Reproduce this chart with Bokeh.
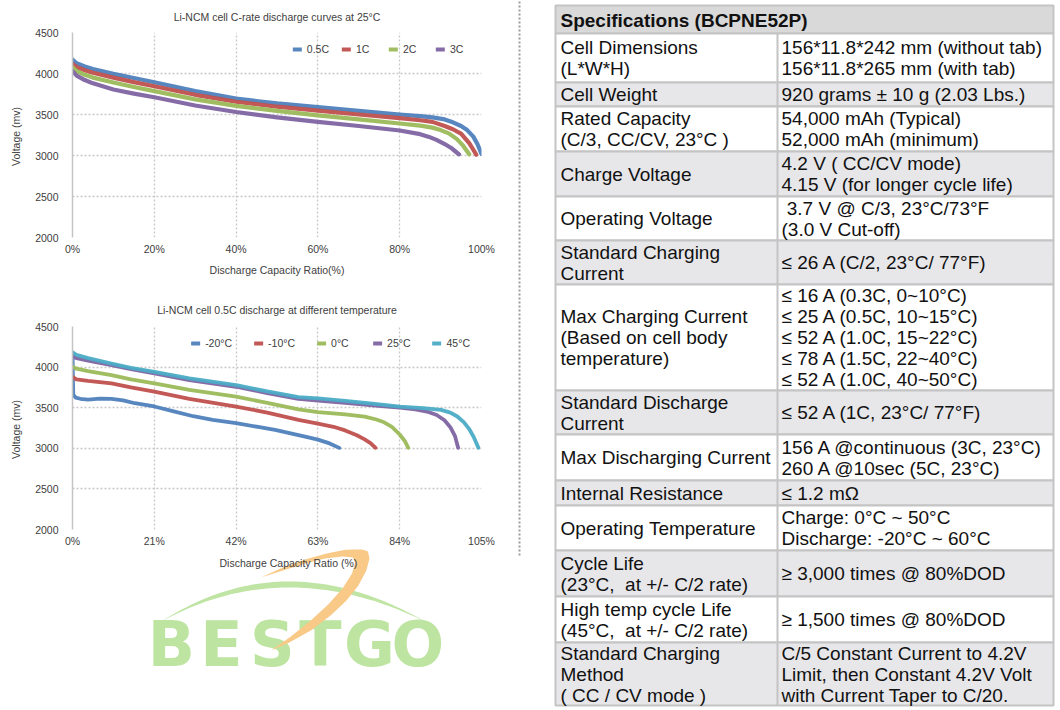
import numpy as np
from bokeh.plotting import figure
from bokeh.layouts import row, column
from bokeh.models import Range1d, FixedTicker, Legend, LegendItem, Spacer
from bokeh.embed import file_html
from bokeh.resources import INLINE
from bokeh.core.properties import value

FONT = "Liberation Sans"
TXT = "#404040"

# ---------------- Chart 1 data: C-rate discharge at 25°C ----------------
c1_title = "Li-NCM cell C-rate discharge curves at 25°C"
c1_xlabel = "Discharge Capacity Ratio(%)"
c1_ylabel = "Voltage  (mv)"
c1_names = ["0.5C", "1C", "2C", "3C"]
c1_xticks = [0, 20, 40, 60, 80, 100]
c1_xtick_labels = ["0%", "20%", "40%", "60%", "80%", "100%"]
y_ticks = [2000, 2500, 3000, 3500, 4000, 4500]

c1_05_x = [0, 1, 3, 5, 10, 15, 20, 30, 40, 50, 60, 70, 80, 85, 88, 91, 93, 95, 96.5, 98, 99, 100]
c1_05_y = [4170, 4125, 4085, 4055, 3995, 3945, 3893, 3785, 3693, 3635, 3590, 3545, 3500, 3480, 3465, 3440, 3405, 3360, 3310, 3230, 3140, 3020]
c1_1_x = [0, 1, 3, 5, 10, 15, 20, 30, 40, 50, 60, 70, 80, 85, 88, 91, 93, 95, 97, 98, 98.7]
c1_1_y = [4115, 4080, 4040, 4010, 3950, 3895, 3845, 3740, 3655, 3595, 3548, 3500, 3455, 3430, 3410, 3360, 3320, 3268, 3150, 3070, 3010]
c1_2_x = [0, 1, 3, 5, 10, 15, 20, 30, 40, 50, 60, 70, 80, 85, 88, 90, 92, 94, 95.5, 97]
c1_2_y = [4075, 4030, 3985, 3950, 3890, 3835, 3785, 3685, 3605, 3545, 3490, 3440, 3390, 3365, 3340, 3310, 3270, 3200, 3120, 3015]
c1_3_x = [0, 1, 3, 5, 10, 15, 20, 30, 40, 50, 60, 70, 80, 85, 87, 89, 91, 92.5, 93.5, 94.5]
c1_3_y = [4030, 3975, 3920, 3880, 3805, 3755, 3710, 3610, 3530, 3465, 3410, 3360, 3305, 3260, 3230, 3190, 3140, 3095, 3055, 3015]

# ---------------- Chart 2 data: 0.5C discharge at different temperature ----------------
c2_title = "Li-NCM cell 0.5C discharge at different temperature"
c2_xlabel = "Discharge  Capacity  Ratio (%)"
c2_names = ["-20°C", "-10°C", "0°C", "25°C", "45°C"]
c2_xticks = [0, 21, 42, 63, 84, 105]
c2_xtick_labels = ["0%", "21%", "42%", "63%", "84%", "105%"]

c2_m20_x = [0, 0.2, 0.8, 2, 4, 7, 10, 13, 16, 21, 26, 31, 36, 42, 48, 52, 56, 60, 63, 66, 68.5]
c2_m20_y = [4180, 3660, 3625, 3610, 3600, 3612, 3608, 3590, 3555, 3515, 3455, 3395, 3350, 3310, 3260, 3228, 3185, 3140, 3107, 3060, 3005]
c2_m10_x = [0, 1, 4, 10, 15, 21, 30, 42, 50, 58, 63, 67, 70, 73, 75, 76.5, 77.8]
c2_m10_y = [3880, 3850, 3830, 3800, 3750, 3697, 3610, 3514, 3440, 3350, 3303, 3265, 3220, 3160, 3110, 3065, 3006]
c2_0_x = [0, 1, 4, 10, 15, 21, 30, 42, 50, 58, 63, 70, 75, 78, 80, 82, 84, 85.3, 86.2]
c2_0_y = [4005, 3980, 3950, 3900, 3850, 3800, 3720, 3636, 3560, 3480, 3446, 3418, 3390, 3355, 3320, 3265, 3170, 3090, 3006]
c2_25_x = [0, 1, 4, 10, 15, 21, 30, 42, 50, 58, 63, 70, 77, 84, 88, 91, 93.5, 95.5, 97, 98.2, 99]
c2_25_y = [4140, 4110, 4080, 4025, 3975, 3922, 3840, 3758, 3680, 3610, 3587, 3560, 3530, 3502, 3480, 3453, 3410, 3345, 3260, 3150, 3006]
c2_45_x = [0, 1, 4, 10, 15, 21, 30, 42, 50, 58, 63, 70, 77, 84, 90, 94.6, 97, 98.8, 100.5, 101.8, 103, 104.2]
c2_45_y = [4180, 4150, 4110, 4044, 3990, 3942, 3860, 3779, 3700, 3630, 3616, 3585, 3550, 3514, 3495, 3474, 3440, 3392, 3320, 3240, 3140, 3006]

C_BLUE, C_RED, C_GREEN, C_PURPLE, C_CYAN = "#4F81BD", "#C0504D", "#9BBB59", "#8064A2", "#4BACC6"

# ---------------- Spec table ----------------
spec_header = "Specifications (BCPNE52P)"
spec_names = [
    "Cell Dimensions\n(L*W*H)",
    "Cell Weight",
    "Rated Capacity\n(C/3, CC/CV, 23°C )",
    "Charge Voltage",
    "Operating Voltage",
    "Standard Charging\nCurrent",
    "Max Charging Current\n(Based on cell body\ntemperature)",
    "Standard Discharge\nCurrent",
    "Max Discharging Current",
    "Internal Resistance",
    "Operating Temperature",
    "Cycle Life\n(23°C,\u00a0 at +/- C/2 rate)",
    "High temp cycle Life\n(45°C,\u00a0 at +/- C/2 rate)",
    "Standard Charging\nMethod\n( CC / CV mode )",
]
spec_values = [
    "156*11.8*242 mm (without tab)\n156*11.8*265 mm (with tab)",
    "920 grams ± 10 g (2.03 Lbs.)",
    "54,000 mAh (Typical)\n52,000 mAh (minimum)",
    "4.2 V ( CC/CV mode)\n4.15 V (for longer cycle life)",
    "\u00a03.7 V @ C/3, 23°C/73°F\n(3.0 V Cut-off)",
    "≤ 26 A (C/2, 23°C/ 77°F)",
    "≤ 16 A (0.3C, 0~10°C)\n≤ 25 A (0.5C, 10~15°C)\n≤ 52 A (1.0C, 15~22°C)\n≤ 78 A (1.5C, 22~40°C)\n≤ 52 A (1.0C, 40~50°C)",
    "≤ 52 A (1C, 23°C/ 77°F)",
    "156 A @continuous (3C, 23°C)\n260 A @10sec (5C, 23°C)",
    "≤ 1.2 mΩ",
    "Charge: 0°C ~ 50°C\nDischarge: -20°C ~ 60°C",
    "≥ 3,000 times @ 80%DOD",
    "≥ 1,500 times @ 80%DOD",
    "C/5 Constant Current to 4.2V\nLimit, then Constant 4.2V Volt\nwith Current Taper to C/20.",
]
# layout (pixel rows of the table)
row_edges = [33, 82, 106, 151, 196, 240, 284, 390, 434, 480, 505, 550, 596, 642, 705]
TABLE_L, TABLE_M, TABLE_R, TABLE_TOP = 555, 777, 1053, 5

LOGO_LETTERS = ["B", "E", "S", "T", "G", "O"]
LOGO_LETTER_X = [124.5, 187.5, 251.5, 312, 374, 435]


def make_chart(title, names, xs, ys, colors, xmax, xticks, xlabels, height, mb_top, mb_bottom,
               xlabel, ylabel, lw, spacing, title_standoff):
    p = figure(width=515, height=height, x_range=Range1d(0, xmax), y_range=Range1d(2000, 4500),
               output_backend="svg", toolbar_location=None,
               min_border_left=72, min_border_right=34, min_border_top=mb_top, min_border_bottom=mb_bottom,
               background_fill_color="white", border_fill_color="white", outline_line_color=None)
    p.title.text = title
    p.title.align = "center"
    p.title.vertical_align = "top"
    p.title.text_font = FONT
    p.title.text_font_size = "10.5px"
    p.title.text_font_style = "normal"
    p.title.text_color = TXT
    p.title.standoff = title_standoff

    rends = []
    for x, y, c in zip(xs, ys, colors):
        r = p.line(x=x, y=y, line_color=c, line_width=lw, line_alpha=0.95,
                   line_cap="round", line_join="round")
        rends.append(r)

    xa = p.xaxis[0]
    xa.ticker = FixedTicker(ticks=xticks)
    xa.major_label_overrides = {t: l for t, l in zip(xticks, xlabels)}
    xa.axis_line_color = None
    xa.major_tick_line_color = None
    xa.minor_tick_line_color = None
    xa.major_tick_out = 0
    xa.major_tick_in = 0
    xa.major_label_standoff = 5
    xa.major_label_text_font = FONT
    xa.major_label_text_font_size = "10.5px"
    xa.major_label_text_color = TXT
    if xlabel:
        xa.axis_label = xlabel
        xa.axis_label_standoff = 6
        xa.axis_label_text_font = FONT
        xa.axis_label_text_font_size = "10.5px"
        xa.axis_label_text_font_style = "normal"
        xa.axis_label_text_color = TXT

    ya = p.yaxis[0]
    ya.ticker = FixedTicker(ticks=y_ticks)
    ya.axis_line_color = "#c4c4c4"
    ya.axis_line_width = 1.5
    ya.major_tick_line_color = None
    ya.minor_tick_line_color = None
    ya.major_tick_out = 0
    ya.major_tick_in = 0
    ya.major_label_standoff = 14
    ya.major_label_text_font = FONT
    ya.major_label_text_font_size = "10.5px"
    ya.major_label_text_color = TXT
    ya.axis_label = ylabel
    ya.axis_label_standoff = 10
    ya.axis_label_text_font = FONT
    ya.axis_label_text_font_size = "10.5px"
    ya.axis_label_text_font_style = "normal"
    ya.axis_label_text_color = TXT

    p.xgrid.ticker = FixedTicker(ticks=xticks)
    p.ygrid.ticker = FixedTicker(ticks=y_ticks)
    p.grid.grid_line_color = "#c8c8c8"
    p.grid.grid_line_dash = "2 2"
    p.grid.grid_line_width = 1.3

    legend = Legend(items=[LegendItem(label=n, renderers=[r]) for n, r in zip(names, rends)],
                    orientation="horizontal", location="top_right",
                    border_line_color=None, background_fill_alpha=0,
                    label_text_font=FONT, label_text_font_size="10.5px", label_text_color=TXT,
                    glyph_width=9, glyph_height=12, label_standoff=5, label_width=20,
                    spacing=spacing, padding=0, margin=11)
    p.add_layout(legend)
    return p


p1 = make_chart(c1_title, c1_names, [c1_05_x, c1_1_x, c1_2_x, c1_3_x], [c1_05_y, c1_1_y, c1_2_y, c1_3_y],
                [C_BLUE, C_RED, C_GREEN, C_PURPLE], 100, c1_xticks, c1_xtick_labels,
                287, 0, 53, c1_xlabel, c1_ylabel, 4.2, 13, 14.5)

p2 = make_chart(c2_title, c2_names, [c2_m20_x, c2_m10_x, c2_0_x, c2_25_x, c2_45_x],
                [c2_m20_y, c2_m10_y, c2_0_y, c2_25_y, c2_45_y],
                [C_BLUE, C_RED, C_GREEN, C_PURPLE, C_CYAN], 105, c2_xticks, c2_xtick_labels,
                253, 0, 18, None, c1_ylabel, 3.8, 22, 15.5)

# ---------------- Logo figure (also carries chart 2's x-axis title) ----------------
p3 = figure(width=515, height=161, x_range=Range1d(0, 515), y_range=Range1d(710, 549),
            x_axis_type=None, y_axis_type=None, output_backend="svg", toolbar_location=None,
            min_border=0, background_fill_color="white", border_fill_color="white", outline_line_color=None)
p3.grid.visible = False

t = np.linspace(0, 1, 60)
def qbez(p0, p1, p2):
    return ((1 - t) ** 2 * p0[0] + 2 * (1 - t) * t * p1[0] + t ** 2 * p2[0],
            (1 - t) ** 2 * p0[1] + 2 * (1 - t) * t * p1[1] + t ** 2 * p2[1])
ox, oy = qbez((112, 621), (268, 541), (444, 621))
ix, iy = qbez((112, 621), (268, 553), (444, 621))
p3.patch(list(ox) + list(ix[::-1]), list(oy) + list(iy[::-1]), fill_color="#bfe4a3", line_color=None)

p3.text(x=LOGO_LETTER_X, y=[644] * len(LOGO_LETTERS), text=LOGO_LETTERS,
        text_font=value("DejaVu Sans"), text_font_style="bold", text_font_size="62px",
        text_color="#bde4a0", text_align="center", text_baseline="middle")

sw_x = [237, 265, 293, 320, 345, 362, 372, 374, 370, 360, 345, 325, 300, 273, 250,
        275, 300, 322, 340, 352, 356, 353, 340, 318, 293, 265]
sw_y = [577, 567, 559, 553, 549, 548, 551, 558, 570, 585, 600, 615, 630, 642, 650,
        636, 620, 604, 588, 573, 562, 557, 556, 558, 563, 570]
p3.patch(sw_x, sw_y, fill_color="#f8c987", line_color=None)

p3.text(x=[275.5], y=[562], text=[c2_xlabel], text_font=value(FONT), text_font_size="10.5px",
        text_color=TXT, text_align="center", text_baseline="middle")

# ---------------- Table figure ----------------
p4 = figure(width=545, height=710, x_range=Range1d(515, 1060), y_range=Range1d(710, 0),
            x_axis_type=None, y_axis_type=None, output_backend="svg", toolbar_location=None,
            min_border=0, background_fill_color="white", border_fill_color="white", outline_line_color=None)
p4.grid.visible = False

# dotted divider
p4.line(x=[519, 519], y=[1, 557], line_color="#9c9c9c", line_width=2, line_dash="2 2")

tops = row_edges[:-1]
bots = row_edges[1:]
fills = ["white" if i % 2 == 0 else "#e7e7ea" for i in range(len(spec_names))]
p4.quad(left=[TABLE_L], right=[TABLE_R], top=[TABLE_TOP], bottom=[row_edges[0]],
        fill_color="#d9d9d9", line_color="#c4c4c4", line_width=2)
p4.quad(left=[TABLE_L] * len(tops), right=[TABLE_R] * len(tops), top=tops, bottom=bots,
        fill_color=fills, line_color="#c4c4c4", line_width=2)
p4.line(x=[TABLE_M, TABLE_M], y=[row_edges[0], row_edges[-1]], line_color="#c4c4c4", line_width=2)

centers = [(a + b) / 2 for a, b in zip(tops, bots)]
p4.text(x=[560], y=[(TABLE_TOP + row_edges[0]) / 2 + 0.5], text=[spec_header], text_font=value(FONT),
        text_font_style="bold", text_font_size="19px", text_color="#111111",
        text_align="left", text_baseline="middle")
p4.text(x=[560] * len(spec_names), y=centers, text=spec_names, text_font=value(FONT),
        text_font_size="19px", text_color="#111111", text_align="left", text_baseline="middle",
        text_line_height=1.0)
p4.text(x=[781] * len(spec_values), y=centers, text=spec_values, text_font=value(FONT),
        text_font_size="19px", text_color="#111111", text_align="left", text_baseline="middle",
        text_line_height=1.0)

left_col = column(Spacer(width=515, height=3), p1, Spacer(width=515, height=6), p2, p3, spacing=0)
layout = row(left_col, p4, spacing=0)
open("out.html", "w").write(file_html(layout, INLINE))
